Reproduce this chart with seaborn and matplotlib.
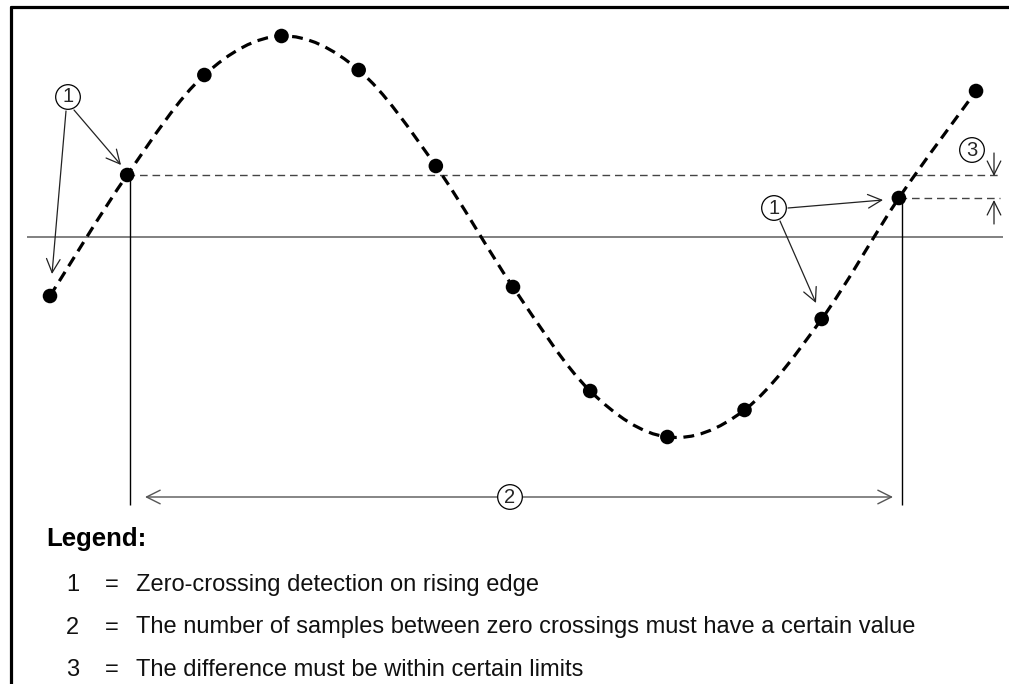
import numpy as np
import matplotlib
matplotlib.use('Agg')
import matplotlib.pyplot as plt
from matplotlib.path import Path
from matplotlib.patches import PathPatch
from matplotlib.lines import Line2D
import seaborn as sns

# sampled signal (sample index, normalised amplitude)
sample_idx = [0, 1, 2, 3, 4, 5, 6, 7, 8, 9, 10, 11, 12]
sample_val = [-0.295, 0.31, 0.81, 1.005, 0.835, 0.355, -0.25,
              -0.77, -1.0, -0.865, -0.41, 0.195, 0.73]

# samples used as detected zero crossings
crossing_idx = [1, 11]

legend_keys = ['1', '2', '3']
legend_text = ['Zero-crossing detection on rising edge',
               'The number of samples between zero crossings must have a certain value',
               'The difference must be within certain limits']

sns.set_theme(style='white')
plt.rcParams['font.family'] = ['Liberation Sans', 'DejaVu Sans']

W, H = 1009, 684
fig = plt.figure(figsize=(W / 100, H / 100), dpi=100)
ax = fig.add_axes([0, 0, 1, 1])
X0, DX, Y0, DY = 50, 77.17, 237, 200
ax.set_xlim(-X0 / DX, (W - X0) / DX)
ax.set_ylim((Y0 - H) / DY, Y0 / DY)
ax.axis('off')


def px(x, y):
    # pixel position in the picture -> data coords
    return ((x - X0) / DX, (Y0 - y) / DY)


# smooth dashed curve through the samples (Catmull-Rom as cubic beziers)
pts = np.column_stack([sample_idx, sample_val]).astype(float)
n = len(pts)
verts = [pts[0]]
codes = [Path.MOVETO]
for i in range(n - 1):
    p0, p1 = pts[max(i - 1, 0)], pts[i]
    p2, p3 = pts[i + 1], pts[min(i + 2, n - 1)]
    verts += [p1 + (p2 - p0) / 6, p2 - (p3 - p1) / 6, p2]
    codes += [Path.CURVE4] * 3
ax.add_patch(PathPatch(Path(verts, codes), fill=False, color='black',
                       lw=2.3, ls=(0, (3.4, 2.1)), zorder=3))

sns.scatterplot(x=sample_idx, y=sample_val, s=110, color='black',
                edgecolor='none', zorder=5, ax=ax, legend=False)

# zero line
xl, _ = px(27, 0)
xr, _ = px(1003, 0)
ax.hlines(0, xl, xr, color='#808080', lw=1.4, zorder=1)

# reference levels at the crossing samples
x_end, _ = px(1000, 0)
for ci in crossing_idx:
    ax.hlines(sample_val[ci], sample_idx[ci], x_end, color='#444444',
              lw=1.0, linestyles=(0, (5.5, 3.5)), zorder=2)

# vertical markers down to the period arrow
_, y_bottom = px(0, 505)
ax.vlines([sample_idx[c] + 0.04 for c in crossing_idx], y_bottom,
          [sample_val[c] for c in crossing_idx], color='black', lw=1.0, zorder=2)

arrow_kw = dict(arrowstyle='->,head_length=0.7,head_width=0.35',
                color='#222222', lw=0.9, mutation_scale=14, shrinkA=0, shrinkB=0)
circ_kw = dict(fontsize=14.5, ha='center', va='center', zorder=6,
               bbox=dict(boxstyle='circle,pad=0.14', fc='white', ec='black', lw=0.9))

# (1) on the left
ax.text(*px(68, 97), '1', **circ_kw)
ax.annotate('', xy=px(52, 274), xytext=px(66, 111), arrowprops=arrow_kw)
ax.annotate('', xy=px(121, 165), xytext=px(74, 110), arrowprops=arrow_kw)

# (1) on the right
ax.text(*px(774, 208), '1', **circ_kw)
ax.annotate('', xy=px(883, 200), xytext=px(788, 208), arrowprops=arrow_kw)
ax.annotate('', xy=px(816, 303), xytext=px(780, 221), arrowprops=arrow_kw)

# (2) period arrow
ax.annotate('', xy=px(893, 497), xytext=px(145, 497),
            arrowprops=dict(arrowstyle='<->,head_length=0.7,head_width=0.35',
                            color='#555555', lw=1.0, mutation_scale=14,
                            shrinkA=0, shrinkB=0))
ax.text(*px(510, 497), '2', **circ_kw)

# (3) difference arrows
ax.text(*px(972, 150), '3', **circ_kw)
ax.annotate('', xy=px(994, 176), xytext=px(994, 153), arrowprops=arrow_kw)
ax.annotate('', xy=px(994, 200), xytext=px(994, 224), arrowprops=arrow_kw)

# frame (left and top)
fig.add_artist(Line2D([11 / W, 11 / W], [0, 1 - 7 / H], transform=fig.transFigure,
                      color='black', lw=2.3))
fig.add_artist(Line2D([11 / W, 1], [1 - 7 / H, 1 - 7 / H], transform=fig.transFigure,
                      color='black', lw=2.3))

# legend block
fig.text(46 / W, 1 - 546 / H, 'Legend:', fontsize=18.5, fontweight='bold',
         va='baseline', color='black')
for i, (k, t) in enumerate(zip(legend_keys, legend_text)):
    yb = 1 - (591 + 42.5 * i) / H
    fig.text(66 / W, yb, k, fontsize=17, va='baseline', color='#111111')
    fig.text(105 / W, yb, '=', fontsize=17, va='baseline', color='#111111')
    fig.text(136 / W, yb, t, fontsize=17, va='baseline', color='#111111')

fig.savefig('out.png', dpi=100)
